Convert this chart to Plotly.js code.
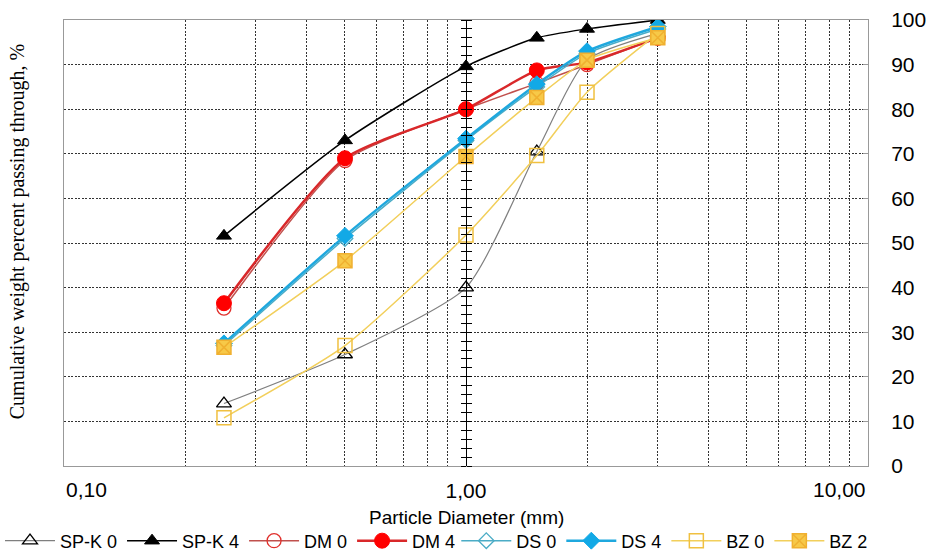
<!DOCTYPE html>
<html>
<head>
<meta charset="utf-8">
<script src="https://cdn.plot.ly/plotly-3.0.1.min.js"></script>
<style>html,body{margin:0;padding:0;background:#fff;}#chart{width:935px;height:554px;}</style>
</head>
<body>
<div id="chart"></div>
<script>
// Particle diameters (mm)
const diameters = [0.25, 0.5, 1, 1.5, 2, 3];
// Cumulative weight percent passing
const spk0 = [14, 25, 40, 70.5, 91, 97];
const spk4 = [51.6, 73, 89.6, 96, 98, 100];
const dm0  = [35.4, 68.5, 80, 85.8, 90, 96];
const dm4  = [36.5, 69, 80, 88.7, 90.5, 96];
const ds0  = [27, 51, 73, 85, 92.5, 98];
const ds4  = [27.5, 51.6, 73.4, 85.6, 93, 98.5];
const bz0  = [10.8, 27, 51.8, 69.6, 83.8, 97];
const bz2  = [26.6, 46, 69.4, 82.6, 91, 96];
const names = ['SP-K 0','SP-K 4','DM 0','DM 4','DS 0','DS 4','BZ 0','BZ 2'];

const xTickVals = [0.1,0.2,0.3,0.4,0.5,0.6,0.7,0.8,0.9,1,2,3,4,5,6,7,8,9,10];
const xTickText = xTickVals.map(v => v===1 ? '1,00' : '');
const xEndLabels = [{v:0.1, t:'0,10', anchor:'left'}, {v:10, t:'10,00', anchor:'right'}];
const yTickVals = [0,10,20,30,40,50,60,70,80,90,100];

function tr(name, y, lc, lw, sym, mc, ms, mlc, mlw, leg){
  return {x: diameters, y: y, name: name, type:'scatter', mode:'lines+markers', legend: leg,
    line:{color:lc, width:lw, shape:'spline', smoothing:0.6},
    marker:{symbol:sym, color:mc, size:ms, line:{color:mlc, width:mlw}}};
}
const data = [
  {x:[], y:[], yaxis:'y2', showlegend:false, hoverinfo:'skip', type:'scatter'},
  {x:[], y:[], yaxis:'y3', showlegend:false, hoverinfo:'skip', type:'scatter'},
  tr(names[0], spk0, '#7f7f7f', 1.2, 'triangle-up-open', '#000000', 13, '#000000', 1.3, 'legend'),
  tr(names[1], spk4, '#000000', 1.5, 'triangle-up', '#000000', 13, '#000000', 1, 'legend'),
  tr(names[2], dm0, '#c0504d', 1.5, 'circle-open', '#e0302c', 14, '#e0302c', 1.3, 'legend'),
  tr(names[3], dm4, '#d9282a', 2.5, 'circle', '#ff0000', 15, '#ff0000', 1, 'legend'),
  tr(names[4], ds0, '#4bacc6', 1.5, 'diamond-open', '#4bacc6', 12, '#4bacc6', 1.3, 'legend2'),
  tr(names[5], ds4, '#1fa8de', 2.5, 'diamond', '#12a9e6', 13, '#12a9e6', 1, 'legend2'),
  tr(names[6], bz0, '#f2cf5b', 1.5, 'square-open', '#f0c040', 14, '#f0c040', 1.5, 'legend2'),
  tr(names[7], bz2, '#f2cf5b', 1.5, 'square-x', '#f7c948', 14, '#f0b030', 1.5, 'legend2')
];

const annotations = xEndLabels.map(l => ({text:l.t, xref:'x', yref:'paper', x:Math.log10(l.v), y:0,
  xanchor:l.anchor, yanchor:'top', yshift:-10, showarrow:false, font:{size:21, color:'#000'}}));
annotations.push({text:'Cumulative weight percent passing through, %', xref:'paper', yref:'paper',
    x:-0.058, y:0.525, xanchor:'center', yanchor:'middle', textangle:-90, showarrow:false,
    font:{family:'Liberation Serif, Times New Roman, serif', size:20, color:'#000'}});
annotations.push({text:'Particle Diameter (mm)', xref:'paper', yref:'paper', x:0.5, y:0,
    xanchor:'center', yanchor:'middle', yshift:-51, showarrow:false, font:{size:19, color:'#000'}});

const legFont = {size:18, family:'Liberation Sans, Arial, sans-serif'};
const layout = {
  width: 935, height: 554,
  margin: {l:64, r:67, t:20, b:88},
  paper_bgcolor:'#fff', plot_bgcolor:'#fff',
  font:{family:'Liberation Sans, Arial, sans-serif', color:'#000'},
  showlegend:true,
  legend:{orientation:'h', xref:'container', yref:'container', x:0, xanchor:'left', y:0.0235, yanchor:'middle',
    font:legFont, itemwidth:50, tracegroupgap:0},
  legend2:{orientation:'h', xref:'container', yref:'container', x:0.488, xanchor:'left', y:0.0235, yanchor:'middle',
    font:legFont, itemwidth:50, tracegroupgap:0},
  xaxis:{type:'log', range:[-1,1], tickmode:'array', tickvals:xTickVals, ticktext:xTickText, automargin:false,
    showgrid:true, gridcolor:'#333', griddash:'2px,1.5px', gridwidth:1,
    showline:true, linecolor:'#999', linewidth:1, mirror:true, ticks:'', zeroline:false,
    tickfont:{size:21}, ticklabelstandoff:6},
  yaxis:{range:[0,100], side:'right', tickmode:'array', tickvals:yTickVals, automargin:false,
    showgrid:true, gridcolor:'#333', griddash:'2px,1.5px', gridwidth:1,
    showline:true, linecolor:'#999', linewidth:1, mirror:true, ticks:'inside', ticklen:5, tickcolor:'#999',
    zeroline:false, tickfont:{size:21}, ticklabelstandoff:18},
  yaxis2:{overlaying:'y', anchor:'free', position:0.5, range:[0,100], showline:true, linecolor:'#000', linewidth:1.2,
    ticks:'outside', dtick:2, tick0:0, ticklen:5, tickcolor:'#000', showticklabels:false, showgrid:false, zeroline:false, automargin:false},
  yaxis3:{overlaying:'y', anchor:'free', position:0.5, side:'right', range:[0,100], showline:false,
    ticks:'outside', dtick:2, tick0:0, ticklen:5, tickcolor:'#000', showticklabels:false, showgrid:false, zeroline:false, automargin:false},
  annotations: annotations
};
Plotly.newPlot('chart', data, layout, {displayModeBar:false, staticPlot:true});
</script>
</body>
</html>
